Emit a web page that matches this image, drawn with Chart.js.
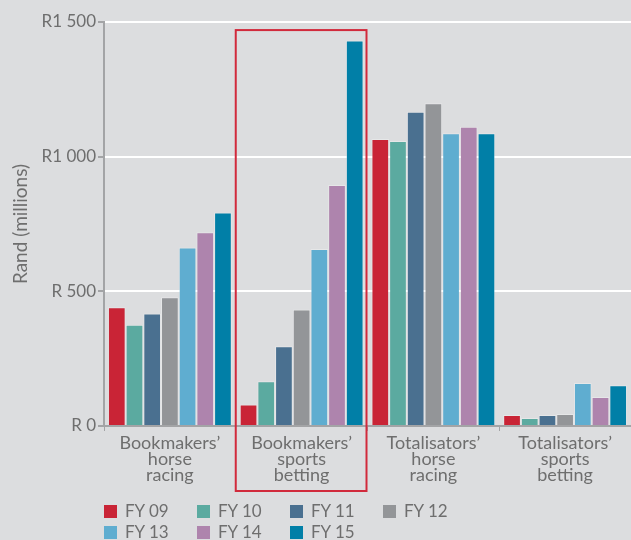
<!DOCTYPE html>
<html>
<head>
<meta charset="utf-8">
<script src="https://cdn.jsdelivr.net/npm/chart.js@4/dist/chart.umd.min.js"></script>
<style>
  body { margin: 0; background: #dcdddf; }
  #wrap { position: relative; width: 631px; height: 540px; }
  #legend { position: absolute; left: 104px; top: 501px; font-family: Lato, sans-serif; font-size: 17px; color: #6e6e6e; }
  #legend .item { position: absolute; white-space: nowrap; line-height: 20px; }
  #legend .box { display: inline-block; width: 13px; height: 13px; margin-right: 8px; vertical-align: -1px; }
</style>
</head>
<body>
<div id="wrap">
  <canvas id="gamblingChart" width="631" height="540"></canvas>
  <div id="legend"></div>
</div>
<script>
const categories = [
  ['Bookmakers’', 'horse', 'racing'],
  ['Bookmakers’', 'sports', 'betting'],
  ['Totalisators’', 'horse', 'racing'],
  ['Totalisators’', 'sports', 'betting']
];
const years = ['FY 09', 'FY 10', 'FY 11', 'FY 12', 'FY 13', 'FY 14', 'FY 15'];
const colors = ['#c92436', '#5baaa0', '#4a7090', '#939598', '#5fadd0', '#ae84ad', '#017fa7'];

// Rand (millions), one array per financial year
const fy09 = [441, 80, 1066, 41];
const fy10 = [376, 166, 1058, 30];
const fy11 = [418, 296, 1167, 41];
const fy12 = [478, 433, 1198, 45];
const fy13 = [663, 657, 1087, 160];
const fy14 = [719, 895, 1111, 108];
const fy15 = [793, 1431, 1087, 151];
const seriesValues = [fy09, fy10, fy11, fy12, fy13, fy14, fy15];

const yTicks = [0, 500, 1000, 1500];
const yTickLabels = ['R 0', 'R 500', 'R1 000', 'R1 500'];

const textColor = '#6e6e6e';
const axisColor = '#a3a4a6';

// red frame around the sports betting group
const highlightBox = {
  id: 'highlightBox',
  afterDraw(chart) {
    const x = chart.scales.x, y = chart.scales.y;
    const half = (x.getPixelForValue(1) - x.getPixelForValue(0)) / 2;
    const left = x.getPixelForValue(1) - half;
    const right = x.getPixelForValue(1) + half - 1;
    const top = y.getPixelForValue(1470);
    const bottom = chart.chartArea.bottom + 65;
    const ctx = chart.ctx;
    ctx.save();
    ctx.strokeStyle = '#d12a3c';
    ctx.lineWidth = 2;
    ctx.strokeRect(left, top, right - left, bottom - top);
    ctx.restore();
  }
};

new Chart(document.getElementById('gamblingChart'), {
  type: 'bar',
  data: {
    labels: categories,
    datasets: seriesValues.map((vals, i) => ({
      label: years[i],
      data: vals,
      backgroundColor: colors[i],
      borderColor: 'rgba(255,255,255,0.3)',
      borderWidth: 1,
      categoryPercentage: 0.94,
      barPercentage: 1
    }))
  },
  options: {
    responsive: false,
    animation: false,
    layout: { padding: { top: 22, right: 0, bottom: 0, left: 0 } },
    plugins: {
      legend: { display: false },
      tooltip: { enabled: false }
    },
    scales: {
      x: {
        afterFit(scale) { scale.height = 114; },
        border: { color: axisColor, width: 2 },
        grid: { drawOnChartArea: false, tickLength: 5, tickColor: axisColor },
        ticks: {
          color: textColor,
          padding: 4,
          font: { family: 'Lato', size: 18, lineHeight: 0.9 },
          maxRotation: 0
        }
      },
      y: {
        min: 0,
        max: 1500,
        afterFit(scale) { scale.width = 104; },
        afterBuildTicks(scale) { scale.ticks = yTicks.map(v => ({ value: v })); },
        border: { color: axisColor, width: 2 },
        grid: {
          color: c => (c.tick && c.tick.value === 0) ? 'rgba(0,0,0,0)' : '#ffffff',
          lineWidth: 2,
          tickLength: 6,
          tickColor: axisColor
        },
        ticks: {
          color: textColor,
          padding: 2,
          font: { family: 'Lato', size: 17 },
          callback: (v) => yTickLabels[yTicks.indexOf(v)]
        },
        title: {
          display: true,
          text: 'Rand (millions)',
          color: textColor,
          font: { family: 'Lato', size: 19 },
          padding: { top: 9, bottom: 0 }
        }
      }
    }
  },
  plugins: [highlightBox]
});

// legend: four per row, fixed columns
const legend = document.getElementById('legend');
years.forEach((name, i) => {
  const item = document.createElement('div');
  item.className = 'item';
  item.style.left = (i % 4) * 93 + 'px';
  item.style.top = Math.floor(i / 4) * 21 + 'px';
  item.innerHTML = '<span class="box" style="background:' + colors[i] + '"></span>' + name;
  legend.appendChild(item);
});
</script>
</body>
</html>
